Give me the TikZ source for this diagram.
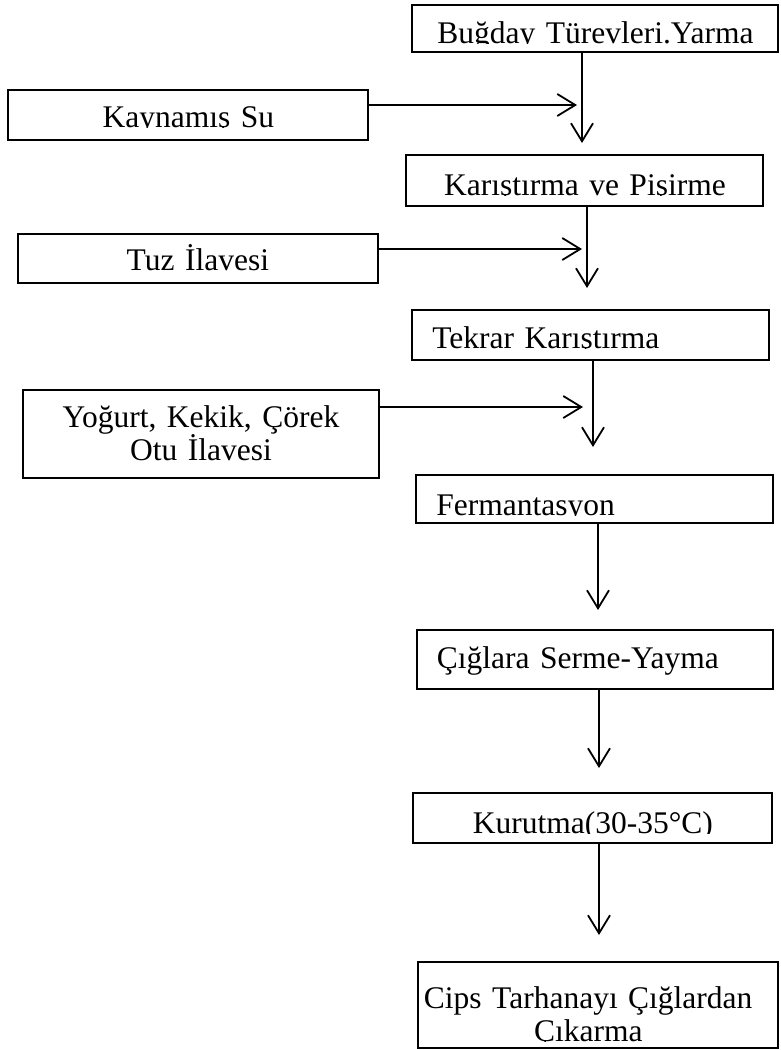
\documentclass[tikz,border=0pt]{standalone}
\usepackage{fontspec}
\setmainfont{Liberation Serif}
\usetikzlibrary{arrows.meta}
% yazinin alt kismini kutu gibi kirpar
\newsavebox\kesbox
\newlength\keswd
\newlength\kesht
\newcommand{\kes}[1]{\sbox\kesbox{#1}\setlength\keswd{\wd\kesbox}\setlength\kesht{\ht\kesbox}%
	\tikz[baseline=0pt]{\clip (0pt,-0.5pt) rectangle (\keswd,\kesht);
		\node[inner sep=0pt, anchor=base west] (kesmetin) at (0pt,0pt) {\usebox\kesbox};}}

\begin{document}
\begin{tikzpicture}[x=1pt, y=-1pt, >={Straight Barb[length=18pt,width=22pt]}, line width=1.8pt,
	font=\fontsize{31.5}{33}\selectfont,
	kutu/.style={draw, inner sep=0pt, anchor=north west, align=center},
	sol/.style={align=left, inner xsep=20pt}]
	\useasboundingbox (0,0) rectangle (780,1050);
	% sag sutun
	\node[kutu, text width=366pt, text height=38pt, text depth=9pt] (bugday) at (412,5) {\kes{Buğday Türevleri.Yarma}};
	\node[kutu, text width=357pt, text height=40pt, text depth=11pt] (karistirma) at (406,155) {\kes{Karıştırma ve Pişirme}};
	\node[kutu, sol, text width=317pt, text height=38pt, text depth=12pt] (tekrar) at (412,310) {\kes{Tekrar Karıştırma}};
	\node[kutu, sol, text width=317pt, text height=40pt, text depth=8pt] (ferm) at (416,475) {\kes{Fermantasyon}};
	\node[kutu, sol, text width=316pt, text height=39pt, text depth=20pt] (cigla) at (416,629) {Çığlara Serme-Yayma};
	\node[kutu, text width=359pt, text height=40pt, text depth=10pt] (kurutma) at (413,793) {\kes{Kurutma(30-35°C)}};
	\node[kutu, text width=360pt, text height=46pt, text depth=40pt] (cips) at (418,962) {Cips Tarhanayı Çığlardan\kern20pt\\\kes{Çıkarma}\kern20pt};
	% sol sutun
	\node[kutu, text width=360pt, text height=37pt, text depth=13pt] (kaynamis) at (8,90) {\kes{Kaynamış Su}};
	\node[kutu, text width=360pt, text height=37pt, text depth=12pt] (tuz) at (17,233) {Tuz İlavesi};
	\node[kutu, text width=356pt, text height=38pt, text depth=50pt] (yogurt) at (22,389) {Yoğurt, Kekik, Çörek\\Otu İlavesi};
	% ok uclari
	\coordinate (u1) at (582,143);
	\coordinate (u2) at (587,288);
	\coordinate (u3) at (593,447);
	\coordinate (u4) at (598,610);
	\coordinate (u5) at (599,768);
	\coordinate (u6) at (599,935);
	\coordinate (h1) at (577,105);
	\coordinate (h2) at (582,249);
	\coordinate (h3) at (583,407);
	\foreach \k/\u in {bugday/u1, karistirma/u2, tekrar/u3, ferm/u4, cigla/u5, kurutma/u6}
		\draw[->] (\k.south -| \u) -- (\u);
	\foreach \k/\h in {kaynamis/h1, tuz/h2, yogurt/h3}
		\draw[->] (\k.east |- \h) -- (\h);
\end{tikzpicture}
\end{document}
